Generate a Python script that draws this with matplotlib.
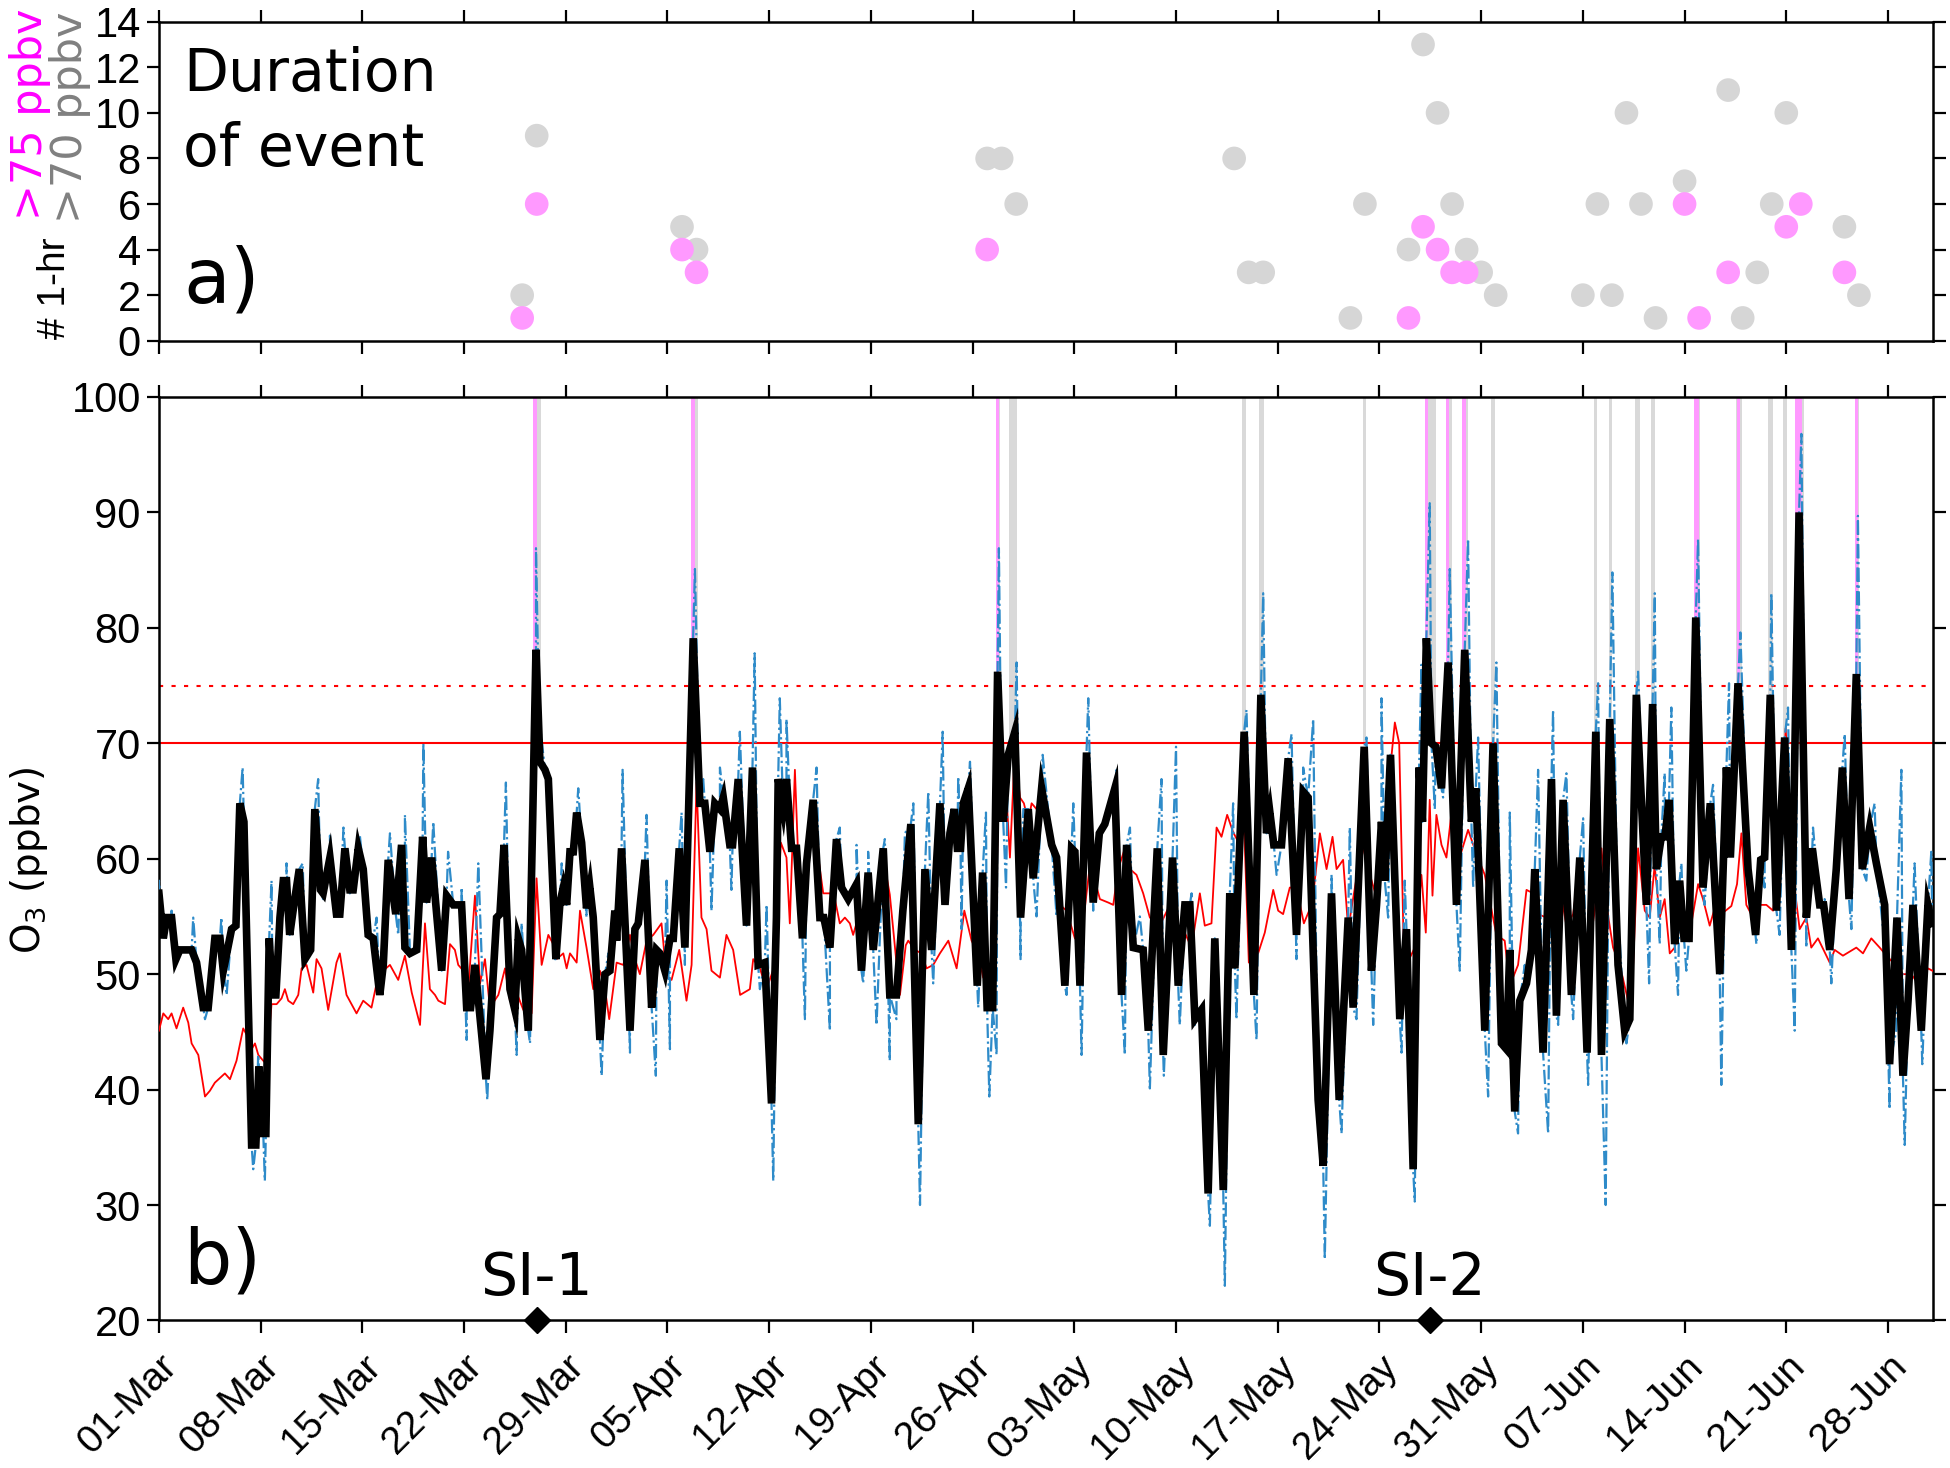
import numpy as np
import matplotlib
matplotlib.use("Agg")
import matplotlib.pyplot as plt

plt.rcParams['font.family'] = ['DejaVu Sans']

# ---------------- data (days since 01-Mar) ----------------
tick_labels = ['01-Mar', '08-Mar', '15-Mar', '22-Mar', '29-Mar', '05-Apr', '12-Apr',
               '19-Apr', '26-Apr', '03-May', '10-May', '17-May', '24-May', '31-May',
               '07-Jun', '14-Jun', '21-Jun', '28-Jun']
tick_days = [0, 7, 14, 21, 28, 35, 42, 49, 56, 63, 70, 77, 84, 91, 98, 105, 112, 119]

# panel a: duration of events
grey_day = [25, 26, 36, 37, 57, 58, 59, 74, 75, 76, 82, 83, 86, 87, 88, 89, 90, 91, 92,
            98, 99, 100, 101, 102, 103, 105, 108, 109, 110, 111, 112, 116, 117]
grey_hrs = [2, 9, 5, 4, 8, 8, 6, 8, 3, 3, 1, 6, 4, 13, 10, 6, 4, 3, 2,
            2, 6, 2, 10, 6, 1, 7, 11, 1, 3, 6, 10, 5, 2]
pink_day = [25, 26, 36, 37, 57, 86, 87, 88, 89, 90, 105, 106, 108, 112, 113, 116]
pink_hrs = [1, 6, 4, 3, 4, 1, 5, 4, 3, 3, 6, 1, 3, 5, 6, 3]

# panel b: exceedance periods (start day, end day)
grey_start = [25.76, 36.61, 57.58, 58.52, 74.55, 75.72, 82.88, 87.12, 88.57, 89.71, 91.71,
              98.77, 99.78, 101.57, 102.67, 105.63, 108.52, 110.74, 111.77, 112.62, 116.71]
grey_end = [26.27, 37.12, 57.88, 59.07, 74.85, 76.07, 83.06, 87.88, 88.96, 90.10, 91.94,
            99.00, 100.01, 101.91, 102.95, 106.04, 108.98, 111.09, 112.05, 113.20, 117.00]
pink_start = [25.76, 36.61, 57.58, 87.12, 88.57, 89.71, 105.63, 108.61, 112.62, 116.71]
pink_end = [26.00, 36.89, 57.81, 87.35, 88.79, 89.99, 105.97, 108.79, 113.10, 116.93]

# 8-hr (black) series
black_day = [0, 0.3, 0.53, 0.87, 1.17, 1.44, 2.25, 2.59, 3.05, 3.39, 3.85, 4.2, 4.43, 5.0, 5.3,
             5.57, 5.85, 6.38, 6.67, 6.88, 7.18, 7.36, 7.59, 7.82, 8.05, 8.33, 8.56, 8.78, 9.0,
             9.29, 9.66, 10.05, 10.44, 10.73, 11.12, 11.3, 11.77, 12.22, 12.45, 12.8, 13.14,
             13.37, 13.72, 14.06, 14.4, 14.75, 15.2, 15.44, 15.78, 16.3, 16.7,
             16.93, 17.28, 17.74, 18.15, 18.42, 18.77, 19.46, 19.8, 20.26, 20.83, 21.18, 21.45,
             21.75, 22.51, 22.78, 23.24, 23.47, 23.75, 24.16, 24.5, 24.73, 24.96, 25.42, 25.72,
             25.95, 26.22, 26.57, 26.8, 27.32, 27.6, 27.83, 28.06, 28.29, 28.52, 28.75, 29.09,
             29.43, 29.66, 29.89, 30.35, 30.7, 31.04, 31.38, 31.5, 31.84, 32.42, 32.76, 32.99,
             33.45, 33.91,
             34.25, 34.48, 34.82, 35.17, 35.4, 35.81, 36.2, 36.77, 37.23, 37.57, 37.92, 38.26,
             38.61, 38.84, 39.29, 39.48, 39.87, 40.44, 40.85, 41.24, 41.7, 42.16, 42.5, 42.62,
             42.96, 43.19, 43.54, 43.88, 44.29, 44.57, 45.03, 45.49, 45.76, 46.18, 46.63, 46.98,
             47.44, 48.01, 48.35, 48.81, 49.16, 49.85, 50.3, 50.76,
             51.2, 51.75, 52.26, 52.72, 53.18, 53.75, 54.1, 54.44, 54.74, 54.95, 55.17, 55.36,
             55.7, 56.32, 56.69, 57.0, 57.38, 57.72, 58.11, 58.45, 58.91, 59.3, 59.83, 60.17,
             60.75, 61.44, 61.78, 62.35, 62.81, 63.04, 63.39, 63.84, 64.3, 64.72, 65.1, 65.79,
             66.25, 66.6, 67.06, 67.74, 68.09, 68.71,
             69.12, 69.76, 70.15, 70.61, 70.95, 71.3, 71.75, 72.21, 72.67, 73.25, 73.7, 74.05,
             74.69, 75.36, 75.84, 76.23, 76.46, 76.73, 77.26, 77.72, 78.29, 78.75, 79.09, 79.78,
             80.13, 80.7, 81.23, 81.85, 82.19, 82.95, 83.45, 83.8, 84.14, 84.37, 84.76, 85.4,
             85.86,
             86.32, 86.73, 86.96, 87.23, 87.58, 87.88, 88.27, 88.73, 89.3, 89.87, 90.33, 90.63,
             91.25, 91.82, 92.4, 92.74, 92.97, 93.31, 93.66, 94.12, 94.46, 94.69, 95.26, 95.84,
             96.18, 96.64, 97.21, 97.79, 98.29, 98.89, 99.28, 99.85, 100.42, 100.88, 101.23,
             101.68, 102.37, 102.8,
             103.06, 103.4, 103.65, 103.93, 104.32, 104.66, 104.96, 105.31, 105.77, 106.27,
             106.77, 107.42, 107.88, 108.15, 108.68, 109.37, 109.89, 110.24, 110.51, 110.9,
             111.32, 111.89, 112.35, 112.88, 113.38, 113.79, 114.3, 114.57, 114.99, 115.44,
             115.86, 116.32, 116.82, 117.23, 117.74, 118.2, 118.77, 119.11, 119.62, 120.03,
             120.38, 120.72, 121.29, 121.75, 122.05]
black_o3 = [57.0, 53.1, 54.9, 54.9, 51.3, 52.1, 52.1, 51.0, 47.1, 47.1, 53.1, 53.1, 50.3, 53.9, 54.2,
            64.8, 63.2, 35.2, 35.2, 42.0, 36.2, 36.2, 53.1, 48.2, 48.2, 54.9, 58.1, 58.1, 53.4,
            56.0, 59.1, 51.3, 52.1, 64.3, 57.3, 57.0, 60.1, 55.2, 55.2, 60.9, 57.3,
            57.3, 60.9, 59.1, 53.4, 53.1, 48.2, 50.8, 59.9, 55.2, 61.2,
            52.3, 51.8, 52.1, 61.9, 56.2, 60.1, 50.3, 56.8, 56.0, 56.0, 47.1, 47.1,
            50.8, 40.9, 45.1, 54.9, 55.2, 61.2, 48.7, 46.9, 53.1, 52.1, 45.1, 63.2,
            78.1, 68.4, 67.7, 66.9, 51.3, 56.2, 57.5, 56.0, 60.6, 60.6, 64.0, 61.4,
            55.7, 57.5, 54.9, 44.3, 50.0, 50.3, 55.5, 52.9, 60.9, 45.1, 53.9, 54.4,
            59.9, 47.1,
            52.1, 51.8, 50.3, 53.1, 53.1, 60.9, 52.3, 79.1, 64.8, 64.8, 60.6, 64.8,
            64.3, 65.3, 61.2, 61.2, 66.9, 54.2, 67.9, 50.8, 51.0, 38.8, 54.9, 66.9,
            64.3, 66.9, 60.9, 60.9, 53.1, 59.6, 65.1, 54.9, 54.9, 52.3, 61.7, 57.5,
            56.5, 57.8, 50.3, 58.8, 52.1, 60.9, 48.2, 48.2,
            55.5, 63.0, 37.0, 59.1, 52.1, 64.8, 56.0, 62.2, 64.3, 60.9, 60.9, 64.8,
            66.1, 49.0, 58.8, 47.1, 47.1, 76.2, 63.2, 69.0, 71.0, 54.9, 64.3, 58.3,
            66.1, 61.2, 60.1, 49.0, 60.9, 60.6, 49.0, 69.2, 56.2, 62.2, 63.0, 66.1,
            48.2, 61.2, 52.3, 52.1, 45.1, 60.9,
            43.0, 60.1, 49.0, 56.0, 56.0, 46.1, 46.9, 31.0, 53.1, 31.3, 57.0, 50.5,
            71.0, 48.2, 74.2, 62.2, 64.0, 61.2, 61.2, 68.7, 53.4, 65.8, 65.3, 39.1,
            33.4, 57.0, 39.1, 54.9, 47.1, 69.7, 50.3, 56.0, 63.2, 58.1, 69.0, 46.1,
            53.9,
            33.1, 67.9, 63.2, 79.1, 70.0, 69.7, 66.1, 77.0, 56.0, 78.1, 63.2, 66.1,
            45.1, 70.0, 44.0, 43.5, 52.1, 38.1, 47.7, 49.2, 52.1, 59.1, 43.2, 66.9,
            46.4, 65.1, 48.2, 60.1, 43.2, 71.0, 43.0, 72.1, 50.8, 45.1, 46.1,
            74.2, 56.0, 73.4,
            59.1, 61.9, 61.9, 65.1, 52.6, 58.1, 53.1, 53.1, 80.9, 57.5,
            64.8, 50.0, 67.9, 60.1, 75.2, 59.1, 53.4, 59.9, 60.1, 74.2,
            55.5, 70.5, 52.1, 90.0, 54.9, 60.9, 56.0, 56.0, 52.1, 59.1,
            67.9, 56.5, 76.0, 59.1, 62.7, 59.6, 56.0, 42.2, 54.9, 41.2,
            47.7, 56.0, 45.1, 56.0, 54.4]

# hourly (blue) series: excursions away from the 8-hr line
blue_day = [0, 0.87, 2.36, 3.17, 4.3, 4.66, 5.76, 6.49, 6.83, 7.29, 7.52, 7.75, 8.78, 9.9,
            10.96, 11.3, 11.77, 12.35, 12.7, 13.14, 13.83, 14.98, 15.32, 15.9, 16.47, 16.93,
            18.2, 18.88, 19.57, 19.9, 20.83, 21.18, 21.98, 22.6, 22.9, 23.88, 24.27, 24.62,
            24.96, 25.54, 25.95, 26.22, 26.68, 27.25, 27.72, 28.86, 29.43, 30.0, 30.47, 30.93,
            31.91, 32.42, 33.56, 34.2,
            34.94, 35.17, 35.97, 36.2, 36.89, 37.46, 38.03, 38.61, 39.4, 39.98, 40.44, 41.0,
            41.36, 41.82, 42.28, 42.73, 43.19, 44.46, 45.26, 46.18, 46.86, 48.01, 48.47, 48.81,
            49.39, 49.96, 50.3, 50.76, 51.34,
            51.92, 52.38, 52.95, 53.29, 53.94, 54.1, 55.01, 55.24, 55.82, 56.39, 56.92, 57.15,
            57.65, 57.81, 58.0, 58.3, 59.03, 59.3, 59.49, 60.4, 60.82, 61.78, 62.47, 62.93,
            63.5, 63.96, 64.3, 64.99, 65.91, 66.48, 66.83, 67.51, 68.2,
            69.0, 69.16, 70.0, 70.26, 71.07, 71.3, 71.64, 72.33, 72.79, 73.36, 73.93, 74.16,
            74.85, 75.54, 76.0, 76.92, 77.95, 78.29, 78.75, 79.44, 79.78, 80.24, 80.7, 81.39,
            81.96, 82.42, 83.11, 83.57, 84.14, 84.6, 84.94, 85.52, 85.74,
            86.43, 86.89, 87.12, 87.46, 87.81, 88.38, 88.84, 89.53, 90.1, 90.45, 90.79, 91.48,
            92.05, 92.51, 92.97, 93.54, 94.0, 94.92, 95.61, 95.95, 96.3, 96.87, 97.33, 98.02,
            98.36, 99.05, 99.57, 100.03, 100.54, 101.0, 101.8, 102.56, 102.95,
            103.29, 103.63, 104.09, 104.55, 104.78, 105.12, 105.93, 106.38, 106.96, 107.53,
            108.06, 108.84, 109.48, 109.94, 110.51, 110.97, 111.54, 112.12, 112.58, 113.04,
            113.38, 113.84, 114.64, 115.1, 116.02, 116.48, 116.93, 117.51, 118.08, 118.66,
            119.11, 119.57, 119.92, 120.15, 120.83, 121.36, 121.98]
blue_o3 = [58.1, 55.5, 54.9, 46.1, 54.9, 48.2, 67.9, 33.1, 43.0, 32.1, 52.9, 58.1, 59.6, 59.6,
           66.9, 56.5, 62.0, 56.5, 62.7, 57.0, 62.0, 54.9, 48.2, 62.2, 53.4, 63.8,
           70.0, 63.2, 50.8, 60.6, 57.5, 44.3, 59.6, 39.1, 50.8, 66.6, 47.7, 43.0,
           54.4, 44.0, 86.9, 71.6, 67.4, 51.3, 59.6, 66.1, 54.9, 55.7, 41.2, 51.8,
           67.7, 43.2, 63.8, 41.2,
           58.1, 43.5, 64.0, 50.8, 85.1, 66.9, 55.5, 67.9, 57.3, 71.0, 54.4, 77.8,
           48.7, 56.0, 32.1, 73.9, 72.1, 46.1, 67.9, 45.1, 62.7, 61.2, 49.2, 60.6,
           45.6, 61.7, 42.5, 46.1, 62.2,
           64.8, 30.0, 65.8, 49.2, 71.0, 57.5, 67.1, 53.9, 68.4, 47.1, 64.0, 39.4,
           43.0, 86.9, 64.3, 57.5, 77.0, 51.3, 64.3, 55.0, 69.0, 55.0, 48.2, 64.8,
           43.0, 73.9, 55.5, 63.2, 67.7, 43.0, 62.7, 55.0, 40.1,
           66.9, 41.2, 69.7, 45.6, 57.0, 45.6, 47.1, 28.2, 50.8, 23.0, 64.8, 46.1,
           72.9, 44.3, 83.0, 58.6, 70.8, 51.3, 67.9, 72.1, 38.3, 25.3, 58.6, 36.2,
           62.7, 46.1, 70.5, 45.6, 73.9, 54.9, 64.8, 43.2, 58.1,
           30.3, 76.8, 64.3, 90.8, 64.3, 65.3, 85.1, 50.3, 87.7, 57.5, 70.5, 39.4,
           77.0, 44.3, 64.0, 36.2, 50.8, 67.7, 36.2, 72.9, 45.6, 67.4, 46.1, 63.5,
           40.4, 75.2, 30.0, 84.8, 52.9, 44.0, 76.2, 49.2, 83.0,
           52.6, 67.4, 73.1, 48.2, 59.6, 50.3, 87.7, 56.0, 66.4, 40.4,
           75.2, 79.6, 59.1, 52.6, 57.5, 83.0, 53.4, 73.1, 45.1, 96.8,
           52.3, 62.7, 56.5, 49.2, 70.8, 53.9, 89.7, 58.1, 64.8, 53.9,
           38.3, 45.1, 67.7, 35.2, 59.6, 42.2, 60.6]

# reference (red) series
red_day = [0, 0.3, 0.64, 0.87, 1.21, 1.67, 2.02, 2.25, 2.71, 3.17, 3.51, 3.85, 4.54, 4.89, 5.34,
           5.8, 6.15, 6.38, 6.61, 6.84, 7.18, 7.41, 7.75, 8.1, 8.44, 8.67, 8.9, 9.24, 9.59,
           9.82, 10.16, 10.62, 10.85, 11.19, 11.65, 12.22, 12.45, 12.91, 13.6, 14.06, 14.63,
           14.98, 15.44, 15.9, 16.47, 16.93,
           17.4, 17.97, 18.31, 18.65, 19.0, 19.23, 19.69, 20.03, 20.37, 20.6, 20.95, 21.29,
           21.75, 22.1, 22.44, 22.78, 23.36, 23.82, 24.16, 24.62, 25.08, 25.65, 25.99, 26.34,
           26.8, 27.14, 27.37, 27.83, 28.06, 28.29, 28.75, 28.98, 29.43, 29.89, 30.35, 30.7,
           30.99, 31.5, 31.96, 32.42, 32.76, 33.1, 33.56, 34.02, 34.59, 34.94, 35.28, 35.81,
           36.31, 36.66, 37.0, 37.34, 37.69, 38.03, 38.61, 39.06, 39.52, 40.0, 40.67, 40.9,
           41.36, 41.82, 42.39, 42.8, 43.19, 43.42, 43.77, 44.11, 44.46, 44.91, 45.26, 45.72,
           46.18, 46.52, 46.86, 47.21, 47.55, 47.78, 48.12, 48.58, 48.93, 49.39, 49.85, 50.3,
           50.76, 51.0, 51.4, 51.57, 52.03, 52.49, 52.83, 53.29, 53.75, 54.33, 54.9, 55.43,
           55.93, 56.39, 56.73, 57.19, 57.53, 57.77, 58.0, 58.29, 58.57, 58.91, 59.26, 59.53,
           59.83, 60.06, 60.4, 60.75, 61.21, 61.67, 62.0, 62.47, 63.04, 63.5, 64.07, 64.42,
           64.76, 65.34, 65.68, 66.02, 66.48, 66.83, 67.28, 67.74, 68.2, 68.89, 69.46, 69.92,
           70.49, 71.07, 71.64, 71.98, 72.44, 72.79, 73.13, 73.52, 73.93, 74.39, 74.69, 75.01,
           75.42, 75.65, 76.11, 76.69, 77.03, 77.37, 77.83, 78.29, 78.8, 79.39, 79.9, 80.36,
           80.77, 81.05, 81.5, 81.85, 82.31, 82.83, 83.34, 83.91, 84.37, 84.71, 85.06, 85.36,
           85.68, 85.86, 86.43, 86.89, 87.19, 87.46, 87.65, 87.92, 88.27, 88.61, 88.96, 89.3,
           89.64, 90.1, 90.68, 91.25, 92.05, 92.62, 92.97, 93.54, 94.12, 94.58, 94.92, 95.49,
           96.07, 96.41, 96.87, 97.33, 97.67, 98.02, 98.43, 98.82, 99.28, 99.62, 100.08,
           100.54, 101.11, 101.46, 101.8, 102.26, 102.6, 102.94, 103.29, 103.63, 103.98,
           104.32, 104.78, 105.24, 105.47, 105.93, 106.27, 106.73, 107.07, 107.53, 108.22,
           108.61, 108.91, 109.25, 109.71, 110.17, 110.63, 111.09, 111.43, 111.73, 111.96,
           112.23, 112.51, 112.92, 113.38, 113.72, 114.18, 114.99, 115.33, 115.9, 116.82,
           117.28, 117.85, 118.43, 118.77, 119.34, 120.03, 120.6, 121.06, 121.4, 121.75, 122.05]
red_o3 = [45.1, 46.6, 46.1, 46.6, 45.3, 47.1, 45.8, 44.0, 43.0, 39.4, 39.9, 40.6, 41.4, 40.9, 42.5,
          45.3, 44.5, 43.5, 44.0, 43.0, 42.5, 42.2, 47.4, 47.4, 47.9, 48.7, 47.7, 47.4, 48.2,
          50.5, 50.8, 48.4, 51.3, 50.5, 46.9, 51.0, 51.8, 48.2, 46.6, 47.7, 47.1,
          49.2, 50.3, 50.8, 49.5, 51.6,
          48.4, 45.6, 54.4, 48.7, 48.2, 47.7, 47.4, 52.6, 52.1, 50.8, 50.3, 48.7,
          56.8, 49.2, 51.3, 47.1, 48.2, 50.5, 47.7, 48.4, 46.9, 46.6, 58.3, 50.8,
          53.4, 52.6, 51.3, 51.8, 50.5, 51.8, 51.0, 55.5, 52.3, 48.7, 50.3, 48.7,
          46.1, 51.0, 50.8, 53.4, 51.3, 50.0, 52.9, 53.4, 54.4, 49.7, 49.5, 52.1,
          47.7, 50.8, 66.6, 54.9, 53.9, 50.3, 49.7, 53.4, 52.1, 48.2, 48.7, 51.3,
          50.5, 48.7, 50.8, 61.4, 60.1, 54.4, 67.7, 56.2, 55.5, 63.0, 61.2, 57.0,
          57.0, 56.5, 54.4, 54.9, 54.4, 53.4, 54.9, 56.0, 56.5, 53.4, 60.1, 56.9,
          51.0, 48.2, 52.5, 52.9, 52.1, 51.8, 50.5, 50.8, 51.8, 52.9, 50.5, 55.5,
          52.9, 51.8, 49.7, 50.8, 50.8, 64.8, 68.4, 66.4, 60.1, 69.5, 65.3, 64.8,
          63.2, 64.8, 64.3, 65.8, 62.2, 59.6, 56.0, 55.5, 53.1, 53.4, 59.4, 58.1,
          56.5, 56.2, 56.0, 59.1, 60.9, 59.1, 58.6, 57.0, 54.9, 54.2, 55.7, 52.3,
          53.9, 52.3, 57.0, 54.2, 54.4, 62.7, 61.9, 63.8, 62.3, 61.2, 62.7, 51.0,
          54.4, 51.8, 53.6, 57.3, 55.5, 55.2, 57.5, 57.5, 54.4, 56.2, 62.2, 59.1,
          61.9, 59.1, 59.9, 53.9, 57.5, 61.2, 58.6, 56.2, 62.7, 67.4, 71.8, 70.0,
          51.8, 50.8, 52.3, 58.6, 53.6, 65.1, 56.8, 63.8, 61.2, 60.1, 64.0, 61.2,
          60.6, 62.5, 60.4, 58.6, 53.4, 52.9, 49.0, 50.8, 57.3, 57.0, 55.2, 54.9,
          58.3, 57.5, 54.2, 55.2, 58.3, 54.4, 52.3, 55.5, 60.9, 56.0, 52.3,
          50.8, 47.7, 50.8, 60.9, 55.5, 54.9, 59.4, 54.9, 56.5, 51.8,
          52.3, 54.6, 55.2, 54.4, 57.8, 56.5, 54.2, 55.7, 55.2, 55.9,
          57.8, 62.2, 56.0, 54.9, 56.0, 56.0, 55.5, 59.1, 65.3, 71.3,
          64.3, 58.1, 53.9, 54.9, 52.3, 53.1, 51.0, 52.1, 51.6, 52.3,
          51.8, 53.1, 52.3, 51.8, 51.0, 50.0, 50.0, 49.2, 49.5, 50.5, 50.3]

si_day = [26.0, 87.45]
si_names = ['SI-1', 'SI-2']
thresholds = [70, 75]

# hourly line = 8-hr line vertices plus the hourly excursions, in time order
hourly = sorted(zip(black_day + blue_day, black_o3 + blue_o3))
hourly_day = [p[0] for p in hourly]
hourly_o3 = [p[1] for p in hourly]

# ---------------- figure ----------------
TICKFONT = 'Liberation Sans'
fig = plt.figure(figsize=(19.5, 14.68), dpi=100)
L, W = 0.0815, 0.9098
ax1 = fig.add_axes([L, 0.7679, W, 0.2173])
ax2 = fig.add_axes([L, 0.1005, W, 0.6291])

GREY_PT = '#d6d6d6'
PINK_PT = '#ff99ff'
XMAX = 122.1

for ax in (ax1, ax2):
    ax.set_xlim(0, XMAX)
    ax.set_xticks(tick_days)
    ax.tick_params(axis='both', which='both', direction='out', length=9, width=1.6,
                   top=True, right=True, labelsize=30, pad=4)
    for s in ax.spines.values():
        s.set_linewidth(1.8)

# panel a
ax1.scatter(grey_day, grey_hrs, s=290, color=GREY_PT, edgecolors='none', zorder=2)
ax1.scatter(pink_day, pink_hrs, s=290, color=PINK_PT, edgecolors='none', zorder=3)
ax1.set_ylim(0, 14)
ax1.set_yticks(range(0, 15, 2))
ax1.set_yticklabels([str(v) for v in range(0, 15, 2)], family=TICKFONT)
ax1.set_xticklabels([])
ax1.text(0.0135, 0.784, 'Duration', transform=ax1.transAxes, fontsize=42,
         va='baseline', ha='left')
ax1.text(0.0135, 0.549, 'of event', transform=ax1.transAxes, fontsize=42,
         va='baseline', ha='left')
ax1.text(0.0135, 0.12, 'a)', transform=ax1.transAxes, fontsize=55, va='baseline', ha='left')

# panel b
for s0, s1 in zip(grey_start, grey_end):
    ax2.fill_between([s0, s1], thresholds[0], 100, color='#d9d9d9', lw=0, zorder=1)
for s0, s1 in zip(pink_start, pink_end):
    ax2.fill_between([s0, s1], thresholds[1], 100, color='#ff99ff', lw=0, zorder=1.5)

ax2.axhline(thresholds[0], color='red', lw=1.5, zorder=2)
ax2.axhline(thresholds[1], color='red', lw=1.5, ls=(0, (2, 4)), zorder=2)
ax2.plot(red_day, red_o3, color='red', lw=1.3, zorder=3)
ax2.plot(hourly_day, hourly_o3, color='#2e8bc9', lw=1.6, ls='-.', zorder=4)
ax2.plot(black_day, black_o3, color='black', lw=5.5, zorder=5, solid_joinstyle='miter')

ax2.set_ylim(20, 100)
ax2.set_yticks(range(20, 101, 10))
ax2.set_yticklabels([str(v) for v in range(20, 101, 10)], family=TICKFONT)
ax2.set_xticklabels(tick_labels, rotation=45, ha='right', va='top',
                    rotation_mode='anchor', family=TICKFONT, fontsize=28)
ax2.tick_params(axis='x', pad=11)
ax2.text(0.0135, 0.04, 'b)', transform=ax2.transAxes, fontsize=55, va='baseline', ha='left')

for d, name in zip(si_day, si_names):
    ax2.plot([d], [20], marker='D', color='black', ms=13, clip_on=False, zorder=10)
    ax2.text(d, 21.2, name, fontsize=42, ha='center', va='bottom')

# labels
fig.text(0.0149, 0.4142, 'O$_3$ (ppbv)', rotation=90, fontsize=28, ha='center', va='center')
fig.text(0.0154, 0.922, '>75 ppbv', rotation=90, fontsize=31, color='magenta',
         ha='center', va='center')
fig.text(0.0359, 0.920, '>70 ppbv', rotation=90, fontsize=31, color='grey',
         ha='center', va='center')
fig.text(0.028, 0.8035, '# 1-hr', rotation=90, fontsize=28, color='black',
         ha='center', va='center', family=TICKFONT)

fig.savefig('out.png', dpi=100)
